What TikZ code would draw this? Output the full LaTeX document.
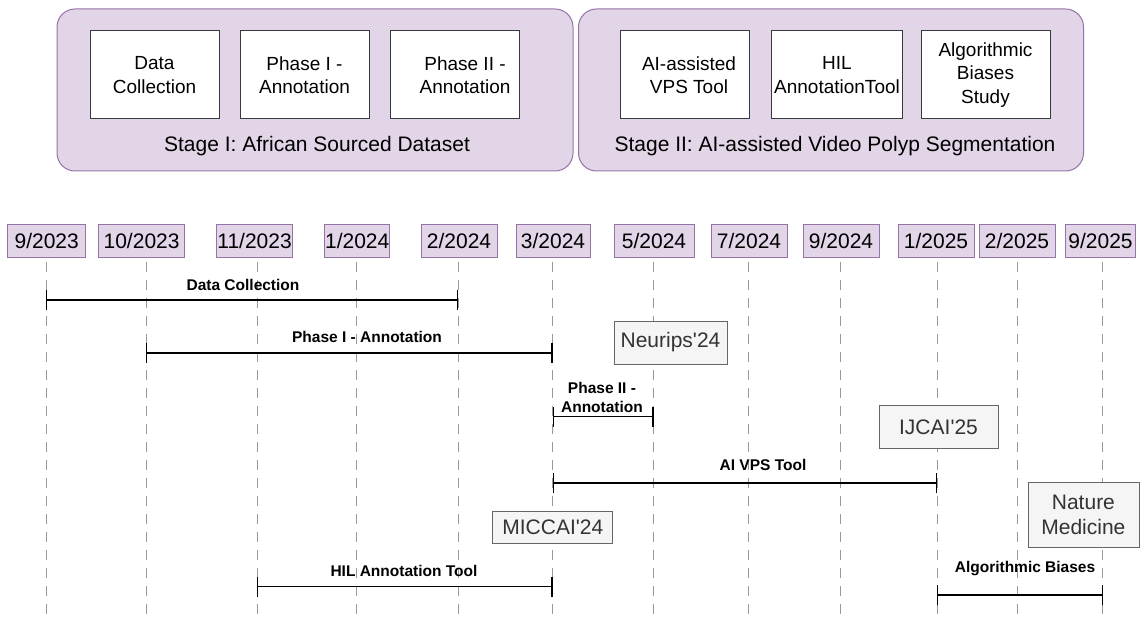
\documentclass[tikz,border=0pt]{standalone}
\usepackage{fontspec}
\setmainfont{Liberation Sans}[Ligatures=TeXOff]
\usetikzlibrary{arrows.meta}
\definecolor{purfill}{HTML}{E1D5E7}
\definecolor{purline}{HTML}{9673A6}
\definecolor{grayfill}{HTML}{F5F5F5}
\definecolor{grayline}{HTML}{666666}
\definecolor{graytext}{HTML}{333333}
\definecolor{dashcol}{HTML}{9A9A9A}
\definecolor{itemline}{HTML}{36393D}
\begin{document}
\begin{tikzpicture}[x=1pt,y=-1pt,
  stagebox/.style={draw=purline, fill=purfill, rounded corners=18pt, line width=1pt, inner sep=0pt},
  itembox/.style={draw=itemline, fill=white, line width=1pt, minimum width=129pt, minimum height=88pt, inner sep=0pt, align=center, font=\fontsize{19}{23.5}\selectfont},
  stagelabel/.style={font=\fontsize{21}{25}\selectfont, inner sep=0pt},
  datebox/.style={draw=purline, fill=purfill, line width=1pt, minimum height=33pt, inner sep=0pt, font=\fontsize{21}{25}\selectfont},
  pubbox/.style={draw=grayline, fill=grayfill, line width=0.8pt, inner sep=0pt, align=center, text=graytext, font=\fontsize{21}{25}\selectfont},
  guide/.style={draw=dashcol, line width=1pt, dash pattern=on 10pt off 8pt},
  span/.style={line width=1.2pt, {Bar[width=20pt]}-{Bar[width=20pt]}},
  spanlabel/.style={font=\bfseries\fontsize{15.5}{19}\selectfont, inner sep=0pt, align=center},
]
\useasboundingbox (0,0) rectangle (1140,620);

% Stages
\node[stagebox, minimum width=516pt, minimum height=162pt] (s1) at (315,90) {};
\node[stagebox, minimum width=505pt, minimum height=162pt] (s2) at (831,90) {};

\node[itembox] (i1) at (154.5,75) {Data\\Collection};
\node[itembox] (i2) at (304.5,75) {Phase I -\\Annotation};
\node[itembox] (i3) at (455,75) {\hspace*{20pt}Phase II -\\\hspace*{20pt}Annotation};
\node[itembox] (i4) at (685,75) {\hspace*{8pt}AI-assisted\\\hspace*{8pt}VPS Tool};
\node[itembox, minimum width=131pt] (i5) at (837,75) {HIL\\AnnotationTool};
\node[itembox] (i6) at (985.5,75) {Algorithmic\\Biases\\Study};

\node[stagelabel] (l1) at (317,146) {Stage I: African Sourced Dataset};
\node[stagelabel] (l2) at (835,146) {Stage II: AI-assisted Video Polyp Segmentation};

% Dates
\node[datebox, minimum width=78.5pt] (d1) at (46.7,241) {9/2023};
\node[datebox, minimum width=86pt] (d2) at (141.6,241) {10/2023};
\node[datebox, minimum width=76pt] (d3) at (254.6,241) {11/2023};
\node[datebox, minimum width=65pt] (d4) at (357.2,241) {1/2024};
\node[datebox, minimum width=76pt] (d5) at (459,241) {2/2024};
\node[datebox, minimum width=74pt] (d6) at (553,241) {3/2024};
\node[datebox, minimum width=80pt] (d7) at (654,241) {5/2024};
\node[datebox, minimum width=76pt] (d8) at (749,241) {7/2024};
\node[datebox, minimum width=76pt] (d9) at (841,241) {9/2024};
\node[datebox, minimum width=76pt] (d10) at (936,241) {1/2025};
\node[datebox, minimum width=76pt] (d11) at (1017,241) {2/2025};
\node[datebox, minimum width=70pt] (d12) at (1100.5,241) {9/2025};

% Guide lines
\foreach \n/\x in {1/46,2/146,3/257,4/356,5/458,6/552.5,7/653.5,8/748,9/840.5,10/937,11/1017.5,12/1102.7}{
  \coordinate (t\n) at (\x,262);
  \coordinate (b\n) at (\x,618);
  \draw[guide] (t\n) -- (b\n);
}

% Spans
\coordinate (dca) at (46,300);   \coordinate (dcb) at (458,300);
\coordinate (p1a) at (146,353);  \coordinate (p1b) at (552.5,353);
\coordinate (p2a) at (552.5,416.5); \coordinate (p2b) at (653.5,416.5);
\coordinate (vpa) at (552.5,483); \coordinate (vpb) at (937,483);
\coordinate (hla) at (257,586.5); \coordinate (hlb) at (552.5,586.5);
\coordinate (aba) at (937,595);  \coordinate (abb) at (1102.7,595);

\draw[span] (dca) -- (dcb);
\draw[span] (p1a) -- (p1b);
\draw[span] (p2a) -- (p2b);
\draw[span] (vpa) -- (vpb);
\draw[span] (hla) -- (hlb);
\draw[span] (aba) -- (abb);

\node[spanlabel] (tdc) at (243,285) {Data Collection};
\node[spanlabel] (tp1) at (367,337) {Phase I - Annotation};
\node[spanlabel] (tp2) at (602,397.5) {Phase II -\\Annotation};
\node[spanlabel] (tvp) at (763,465) {AI VPS Tool};
\node[spanlabel] (thl) at (404,571) {HIL Annotation Tool};
\node[spanlabel] (tab) at (1025,569) {Algorithmic Biases};

% Publications
\node[pubbox, minimum width=113pt, minimum height=43pt] (pn) at (670.5,342.5) {Neurips'24};
\node[pubbox, minimum width=119pt, minimum height=43pt] (pi) at (938.5,427.3) {IJCAI'25};
\node[pubbox, minimum width=120pt, minimum height=31.5pt] (pm) at (552.8,527.3) {MICCAI'24};
\node[pubbox, minimum width=111pt, minimum height=65pt] (pnm) at (1083.4,514.5) {Nature\\Medicine};
\end{tikzpicture}
\end{document}
